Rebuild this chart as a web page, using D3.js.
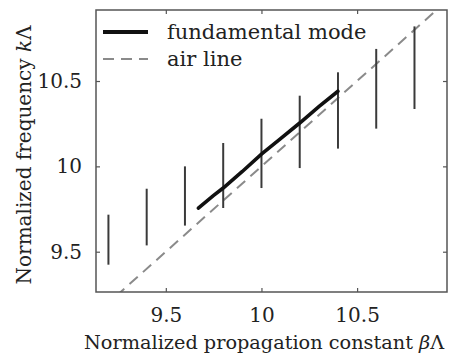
<!DOCTYPE html>
<html><head><meta charset="utf-8">
<script src="https://cdn.jsdelivr.net/npm/d3@7"></script>
</head><body style="margin:0">
<svg id="c" width="452" height="356"></svg>
<script>
// Data
const barX = [9.2, 9.4, 9.6, 9.8, 10.0, 10.2, 10.4, 10.6, 10.8];
const barLow = [9.424, 9.537, 9.653, 9.756, 9.873, 9.99, 10.104, 10.221, 10.336];
const barHigh = [9.717, 9.869, 10.0, 10.137, 10.279, 10.414, 10.551, 10.688, 10.82];
const modeBeta = [9.67, 9.75, 9.8, 9.9, 10.0, 10.1, 10.2, 10.3, 10.4];
const modeK = [9.755, 9.83, 9.873, 9.97, 10.072, 10.163, 10.254, 10.35, 10.44];
const airBeta = [9.24, 10.9];
const airK = [9.24, 10.9];
const xTicks = [9.5, 10, 10.5];
const yTicks = [9.5, 10, 10.5];
const xTickLabels = ["9.5", "10", "10.5"];
const yTickLabels = ["9.5", "10", "10.5"];
const legendLabels = ["fundamental mode", "air line"];

const FONT = "DejaVu Serif";
const svg = d3.select("#c");
svg.append("rect").attr("width",452).attr("height",356).attr("fill","#fff");
const L = 96, R = 447, T = 10, B = 292;
const x = d3.scaleLinear().domain([9.135, 10.97]).range([L, R]);
const y = d3.scaleLinear().domain([9.264, 10.916]).range([B, T]);

const g = svg.append("g");
svg.append("clipPath").attr("id","cp").append("rect")
  .attr("x", L).attr("y", T).attr("width", R-L).attr("height", B-T);

const line = d3.line().x(d=>x(d[0])).y(d=>y(d[1]));
g.append("path").attr("clip-path","url(#cp)")
  .datum(airBeta.map((b,i)=>[b, airK[i]]))
  .attr("d", line).attr("fill","none").attr("stroke","#8a8a8a")
  .attr("stroke-width",2).attr("stroke-dasharray","11,7");

g.selectAll(".bar").data(barX).enter().append("line")
  .attr("x1", d=>x(d)).attr("x2", d=>x(d))
  .attr("y1", (d,i)=>y(barLow[i])).attr("y2", (d,i)=>y(barHigh[i]))
  .attr("stroke","#3a3a3a").attr("stroke-width",2);

g.append("path").datum(modeBeta.map((b,i)=>[b, modeK[i]]))
  .attr("d", line).attr("fill","none").attr("stroke","#111")
  .attr("stroke-width",3.6).attr("stroke-linecap","round");

svg.append("rect").attr("x",L).attr("y",T).attr("width",R-L).attr("height",B-T)
  .attr("fill","none").attr("stroke","#555").attr("stroke-width",1.5);

const axB = svg.append("g").attr("transform",`translate(0,${B})`)
  .call(d3.axisBottom(x).tickValues(xTicks).tickSize(-4).tickPadding(16).tickFormat((d,i)=>xTickLabels[i]));
const axT = svg.append("g").attr("transform",`translate(0,${T})`)
  .call(d3.axisTop(x).tickValues(xTicks).tickSize(-4).tickFormat(""));
const axL = svg.append("g").attr("transform",`translate(${L},0)`)
  .call(d3.axisLeft(y).tickValues(yTicks).tickSize(-4).tickPadding(14).tickFormat((d,i)=>yTickLabels[i]));
const axR = svg.append("g").attr("transform",`translate(${R},0)`)
  .call(d3.axisRight(y).tickValues(yTicks).tickSize(-4).tickFormat(""));
[axB,axT,axL,axR].forEach(a=>{
  a.attr("font-family", FONT).attr("font-size", 20);
  a.select(".domain").remove();
  a.selectAll(".tick line").attr("stroke","#555").attr("stroke-width",1.2);
  a.selectAll("text").attr("fill","#222");
});

svg.append("text").attr("x",84).attr("y",349).attr("font-family",FONT).attr("font-size",19.3).attr("fill","#222")
  .html('Normalized propagation constant <tspan font-style="italic">β</tspan>Λ');
svg.append("text").attr("transform","translate(31,155) rotate(-90)")
  .attr("text-anchor","middle").attr("font-family",FONT).attr("font-size",20).attr("fill","#222")
  .html('Normalized frequency <tspan font-style="italic">k</tspan>Λ');

const lg = svg.append("g");
lg.append("line").attr("x1",103).attr("x2",148).attr("y1",32).attr("y2",32)
  .attr("stroke","#111").attr("stroke-width",4);
lg.append("line").attr("x1",103).attr("x2",148).attr("y1",59).attr("y2",59)
  .attr("stroke","#8a8a8a").attr("stroke-width",2).attr("stroke-dasharray","11,7");
lg.selectAll(".lt").data(legendLabels).enter().append("text")
  .attr("x",167).attr("y",(d,i)=>39+i*27).attr("font-family",FONT).attr("font-size",21).attr("fill","#222").text(d=>d);
</script>
</body></html>
